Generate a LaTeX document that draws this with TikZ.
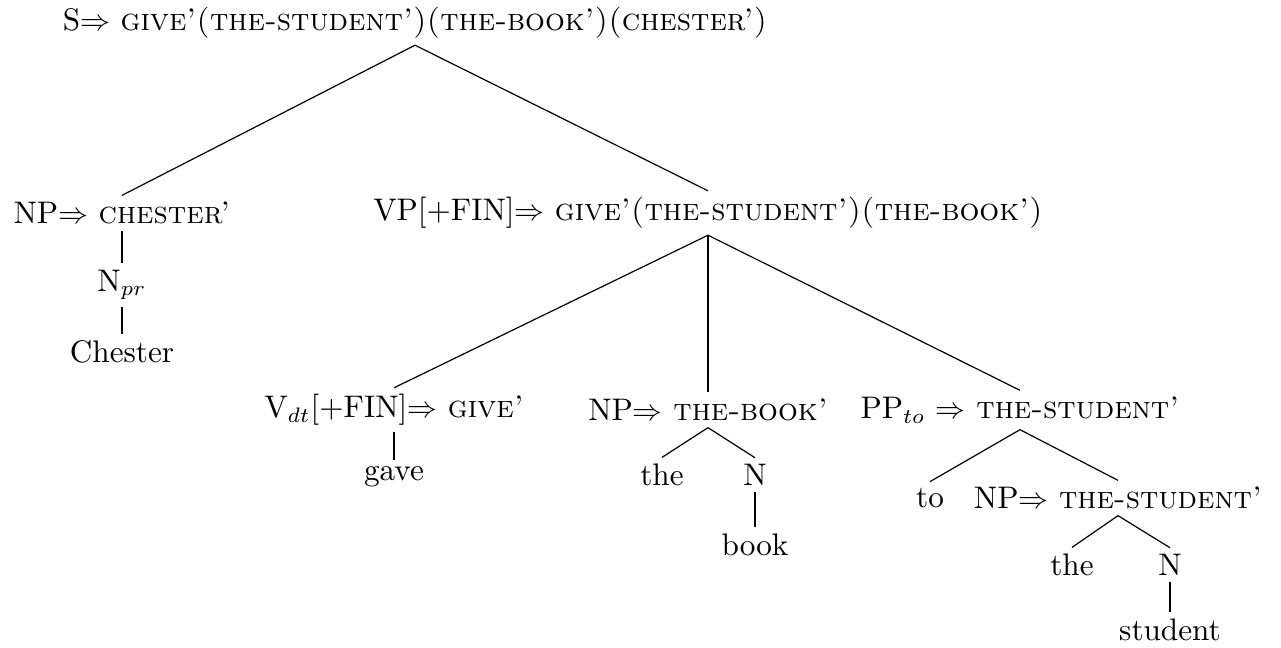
\documentclass[tikz,border=0pt]{standalone}
\usepackage{amsmath,amssymb}
\usepackage{tikz}
\tikzset{
  cat/.style={inner sep=2pt,font=\fontsize{10.4pt}{12.5pt}\selectfont},
  br/.style={line width=0.4pt},
  un/.style={line width=0.9pt},
}

\begin{document}
\begin{tikzpicture}[x=0.3333pt,y=-0.3333pt]
    \useasboundingbox (0,0) rectangle (1281,648);

    % Root
    \node[cat] (s) at (415,23)
      {S$\Rightarrow$ \textsc{give'(the-student')(the-book')(chester')}};

    % Subject
    \node[cat] (np)  at (122,213) {NP$\Rightarrow$ \textsc{chester'}};
    \node[cat] (npr) at (122,285) {N$_{pr}$};
    \node[cat] (chs) at (122,352) {Chester};

    % Verb phrase
    \node[cat] (vp) at (708,213)
      {VP[+FIN]$\Rightarrow$ \textsc{give'(the-student')(the-book')}};
    \node[cat] (vdt)  at (394,410) {V$_{dt}$[+FIN]$\Rightarrow$ \textsc{give'}};
    \node[cat] (gave) at (394,477) {gave};
    \node[cat] (npb)  at (708,410) {NP$\Rightarrow$ \textsc{the-book'}};
    \node[cat] (the1) at (662,475) {the};
    \node[cat] (n1)   at (755,475) {N};
    \node[cat] (book) at (755,545) {book};
    \node[cat] (pp)   at (1020,410) {PP$_{to}$ $\Rightarrow$ \textsc{the-student'}};
    \node[cat] (to)   at (930,498) {to};
    \node[cat] (nps)  at (1118,498) {NP$\Rightarrow$ \textsc{the-student'}};
    \node[cat] (the2) at (1072,565) {the};
    \node[cat] (n2)   at (1170,565) {N};
    \node[cat] (stu)  at (1170,630) {student};

    % Branches
    \foreach \p/\c in {s/np,s/vp,vp/vdt,vp/pp,npb/the1,npb/n1,
                       pp/to,pp/nps,nps/the2,nps/n2}{
      \draw[br] (\p.south) -- (\c.north);
    }
    \foreach \p/\c in {np/npr,npr/chs,vp/npb,vdt/gave,n1/book,n2/stu}{
      \draw[un] (\p.south) -- (\c.north);
    }
  \end{tikzpicture}
\end{document}
